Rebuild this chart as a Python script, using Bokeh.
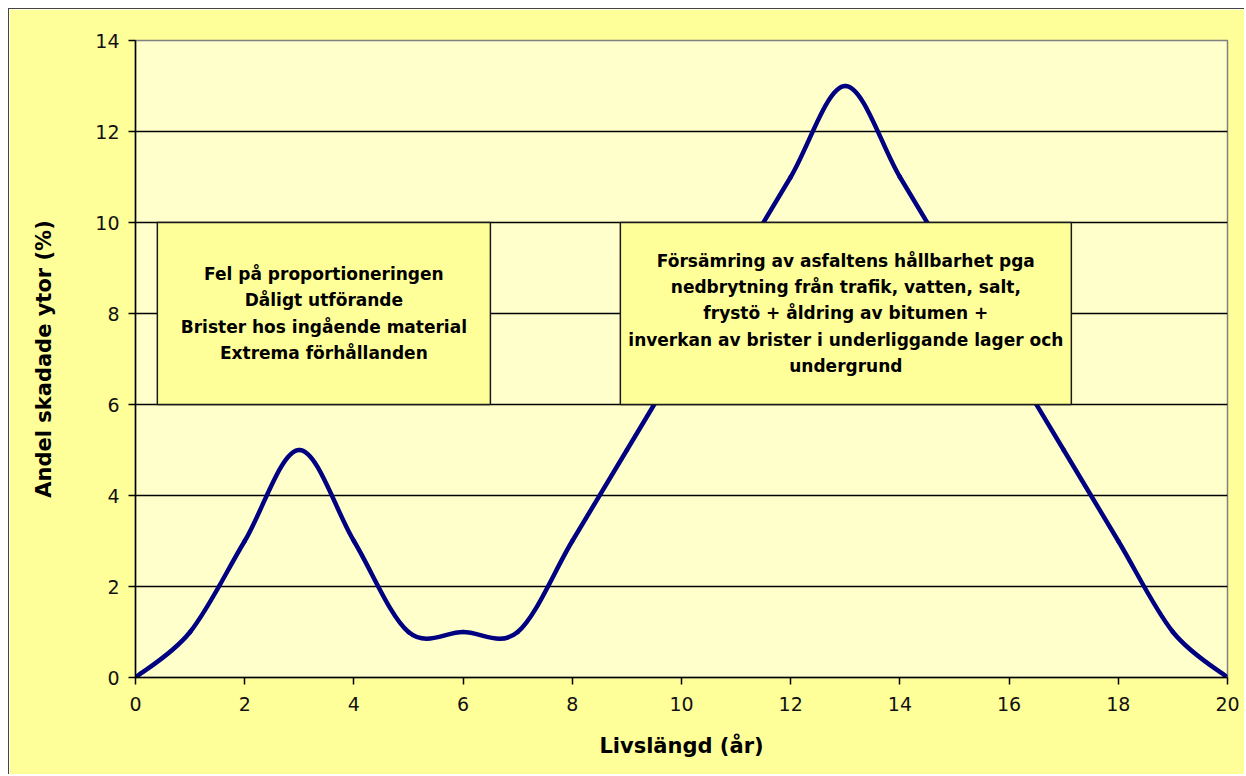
import numpy as np
from bokeh.plotting import figure
from bokeh.models import Range1d, FixedTicker, BoxAnnotation, Label
from bokeh.embed import file_html
from bokeh.resources import INLINE

# ---- data ----
years = [0, 1, 2, 3, 4, 5, 6, 7, 8, 9, 10, 11, 12, 13, 14, 15, 16, 17, 18, 19, 20]
damaged_pct = [0, 1, 3, 5, 3, 1, 1, 1, 3, 5, 7, 9, 11, 13, 11, 9, 7, 5, 3, 1, 0]
x_ticks = [0, 2, 4, 6, 8, 10, 12, 14, 16, 18, 20]
y_ticks = [0, 2, 4, 6, 8, 10, 12, 14]
x_title = "Livslängd (år)"
y_title = "Andel skadade ytor (%)"
box1_text = ["Fel på proportioneringen", "Dåligt utförande",
             "Brister hos ingående material", "Extrema förhållanden"]
box2_text = ["Försämring av asfaltens hållbarhet pga",
             "nedbrytning från trafik, vatten, salt,",
             "frystö + åldring av bitumen +",
             "inverkan av brister i underliggande lager och",
             "undergrund"]
box1_extent = dict(left=0.4, right=6.5, bottom=6, top=10)
box2_extent = dict(left=8.88, right=17.14, bottom=6, top=10)

FONT = "DejaVu Sans"

p = figure(width=1236, height=766, output_backend="svg", toolbar_location=None,
           x_range=Range1d(0, 20), y_range=Range1d(0, 14),
           min_border_left=126, min_border_right=18,
           min_border_top=31, min_border_bottom=98,
           styles={"margin-left": "8px", "margin-top": "8px",
                   "border-left": "1px solid #444444",
                   "border-top": "1px solid #444444"})
p.background_fill_color = "#FFFFCC"
p.border_fill_color = "#FFFF99"
p.outline_line_color = "#808080"
p.outline_line_width = 1.5

# smoothed line (Excel-like smoothing: cubic Bezier segments, Catmull-Rom control points)
xs = np.array(years, dtype=float)
ys = np.array(damaged_pct, dtype=float)
xp = np.concatenate([[xs[0]], xs, [xs[-1]]])
yp = np.concatenate([[ys[0]], ys, [ys[-1]]])
n = len(xs) - 1
x0 = xs[:-1]; y0 = ys[:-1]; x1 = xs[1:]; y1 = ys[1:]
cx0 = x0 + (xp[2:n + 2] - xp[0:n]) / 6.0
cy0 = y0 + (yp[2:n + 2] - yp[0:n]) / 6.0
cx1 = x1 - (xp[3:n + 3] - xp[1:n + 1]) / 6.0
cy1 = y1 - (yp[3:n + 3] - yp[1:n + 1]) / 6.0
p.bezier(x0=x0, y0=y0, x1=x1, y1=y1, cx0=cx0, cy0=cy0, cx1=cx1, cy1=cy1,
         line_color="#000080", line_width=4.5, line_cap="round")

# grid
p.xgrid.visible = False
p.ygrid.ticker = FixedTicker(ticks=y_ticks[1:-1])
p.ygrid.grid_line_color = "black"
p.ygrid.grid_line_width = 1.3

# axes
for ax in (p.xaxis[0], p.yaxis[0]):
    ax.axis_line_color = "black"
    ax.axis_line_width = 1.5
    ax.major_tick_line_color = "black"
    ax.major_tick_line_width = 1.5
    ax.major_tick_in = 0
    ax.major_tick_out = 7
    ax.minor_tick_line_color = None
    ax.major_label_text_font = FONT
    ax.major_label_text_font_size = "19px"
    ax.major_label_text_color = "#111111"
    ax.axis_label_text_font = FONT
    ax.axis_label_text_font_style = "bold"
    ax.axis_label_text_font_size = "21px"
    ax.axis_label_text_color = "black"

p.xaxis[0].ticker = FixedTicker(ticks=x_ticks)
p.yaxis[0].ticker = FixedTicker(ticks=y_ticks)
p.xaxis[0].axis_label = x_title
p.yaxis[0].axis_label = y_title
p.xaxis[0].major_label_standoff = 12
p.xaxis[0].axis_label_standoff = 20
p.yaxis[0].major_label_standoff = 9
p.yaxis[0].axis_label_standoff = 36

# annotation boxes
for ext, lines in ((box1_extent, box1_text), (box2_extent, box2_text)):
    p.add_layout(BoxAnnotation(fill_color="#FFFF99", fill_alpha=1.0,
                               line_color="#1a1a1a", line_alpha=1.0,
                               line_width=1.5, **ext))
    cx = (ext["left"] + ext["right"]) / 2.0
    cy = (ext["bottom"] + ext["top"]) / 2.0
    p.add_layout(Label(x=cx, y=cy, text="\n".join(lines),
                       text_align="center", text_baseline="middle",
                       text_font=FONT, text_font_style="bold",
                       text_font_size="17px", text_line_height=1.32,
                       text_color="black"))

open("out.html", "w").write(file_html(p, INLINE))
